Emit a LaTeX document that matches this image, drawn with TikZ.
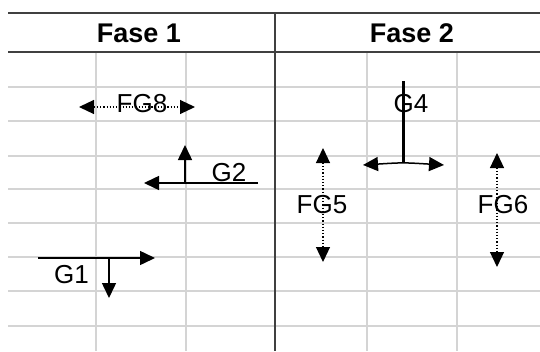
\documentclass[tikz,border=0pt]{standalone}
\usepackage{fontspec}
\setmainfont{Liberation Sans}
\usetikzlibrary{arrows.meta}
\usetikzlibrary{positioning}

\begin{document}
\begin{tikzpicture}
		[x=1pt,y=-1pt,
		grid/.style={draw=black!17,line width=1.3pt},
		rule/.style={draw=black!75,line width=2pt},
		move/.style={line width=1.5pt,-{Triangle[length=15pt,width=14pt]}},
		twoway/.style={line width=1.5pt,{Triangle[length=15pt,width=14pt]}-{Triangle[length=15pt,width=14pt]}},
		flow/.style={twoway,line width=1.2pt,dotted},
		every node/.style={inner sep=0pt,font=\fontsize{26}{30}\selectfont}]
		\useasboundingbox (0,0) rectangle (540,351);
		
		% grid of the sheet
		\foreach \y in {87,121,156,189,223,257,291,326}
		\draw[grid] (8,\y) -- (540,\y);
		\foreach \x in {96,186,367,457}
		\draw[grid] (\x,52) -- (\x,351);
		\draw[rule] (8,13) -- (540,13);
		\draw[rule] (8,52) -- (540,52);
		\draw[rule] (275,13) -- (275,351);
		
		\node[font=\bfseries\fontsize{27}{30}\selectfont] (fase1) at (139,33) {Fase 1};
		\node[font=\bfseries\fontsize{27}{30}\selectfont] (fase2) at (412,33) {Fase 2};
		
		\coordinate (fg8l) at (79,107);
		\coordinate (fg8r) at (195,107);
		\coordinate (g2r) at (258,183);
		\coordinate (g2l) at (144,183);
		\coordinate (g2b) at (185,183);
		\coordinate (g2t) at (185,145);
		\coordinate (g1l) at (38,258);
		\coordinate (g1r) at (155,258);
		\coordinate (g1t) at (109,258);
		\coordinate (g1b) at (109,298);
		\coordinate (g4t) at (403,81);
		\coordinate (g4b) at (403,163);
		\coordinate (g4l) at (363,165);
		\coordinate (g4r) at (444,165);
		\coordinate (fg5t) at (323,148);
		\coordinate (fg5b) at (323,262);
		\coordinate (fg6t) at (497,153);
		\coordinate (fg6b) at (497,267);
		
		\foreach \from/\to in
		{fg8l/fg8r, fg5t/fg5b, fg6t/fg6b}
		\draw[flow] (\from) -- (\to);
		\foreach \from/\to in
		{g2r/g2l, g2b/g2t, g1l/g1r, g1t/g1b}
		\draw[move] (\from) -- (\to);
		\draw[line width=3pt] (g4t) -- (g4b);
		\draw[twoway] (g4l) .. controls (403,162.5) .. (g4r);
		
		\node (fg8) at (142,103.5) {FG8};
		\node (g2) at (229,172.5) {G2};
		\node (g1) at (71.5,275) {G1};
		\node (g4) at (411,104) {G4};
		\node (fg5) at (322,205) {FG5};
		\node (fg6) at (503,205) {FG6};
		\end{tikzpicture}
\end{document}
